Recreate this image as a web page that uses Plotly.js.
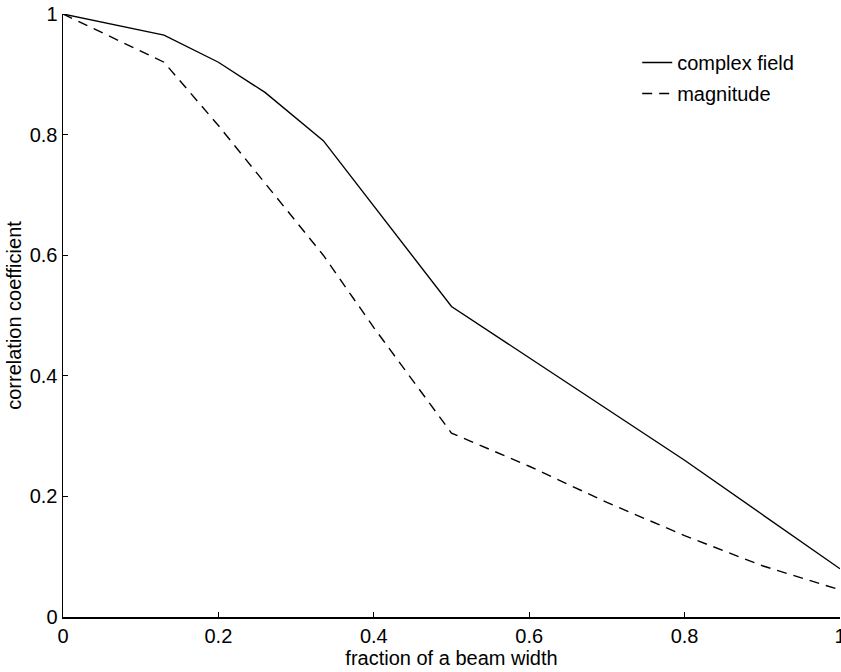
<!DOCTYPE html>
<html>
<head>
<meta charset="utf-8">
<script src="https://cdn.plot.ly/plotly-3.0.1.min.js"></script>
<style>html,body{margin:0;padding:0;background:#fff;}#chart{width:841px;height:672px;}</style>
</head>
<body>
<div id="chart"></div>
<script>
// Data
const xComplex = [0, 0.13, 0.2, 0.26, 0.335, 0.5, 0.6, 0.7, 0.8, 0.9, 1.0];
const yComplex = [1.0, 0.965, 0.92, 0.87, 0.79, 0.515, 0.43, 0.345, 0.26, 0.17, 0.08];
const xMagnitude = [0, 0.13, 0.2, 0.26, 0.335, 0.4, 0.5, 0.6, 0.7, 0.8, 0.9, 1.0];
const yMagnitude = [1.0, 0.92, 0.815, 0.72, 0.6, 0.48, 0.305, 0.25, 0.19, 0.135, 0.085, 0.045];
const seriesNames = ["complex field", "magnitude"];
const xTitle = "fraction of a beam width";
const yTitle = "correlation coefficient";

const font = {family: "Liberation Sans, Arial, Helvetica, sans-serif", size: 20, color: "#000"};

const traces = [
  {x: xComplex, y: yComplex, name: seriesNames[0], mode: "lines", legendgroup: "a",
   line: {color: "#000", width: 1.4, dash: "solid"}},
  {x: xMagnitude, y: yMagnitude, name: seriesNames[1], mode: "lines", legendgroup: "b",
   line: {color: "#000", width: 1.4, dash: "10px,7px"}}
];

const layout = {
  width: 841, height: 672,
  margin: {l: 63, r: 1, t: 14, b: 55},
  paper_bgcolor: "#fff", plot_bgcolor: "#fff",
  font: font,
  showlegend: true,
  legend: {x: 0.739, y: 0.952, xanchor: "left", yanchor: "top", bgcolor: "rgba(0,0,0,0)",
           traceorder: "grouped", tracegroupgap: 2, font: font},
  xaxis: {range: [0, 1], dtick: 0.2, tick0: 0, ticks: "inside", ticklen: 5, tickcolor: "#000",
          showline: true, linecolor: "#000", linewidth: 1.5, showgrid: false, zeroline: false,
          ticklabeloverflow: "allow", tickfont: font,
          title: {text: xTitle, font: font, standoff: 2}},
  yaxis: {range: [0, 1], dtick: 0.2, tick0: 0, ticks: "inside", ticklen: 5, tickcolor: "#000",
          showline: true, linecolor: "#000", linewidth: 1.5, showgrid: false, zeroline: false,
          ticklabeloverflow: "allow", tickfont: font,
          title: {text: yTitle, font: font, standoff: 2}}
};

Plotly.newPlot("chart", traces, layout, {displayModeBar: false, staticPlot: true});
</script>
</body>
</html>
